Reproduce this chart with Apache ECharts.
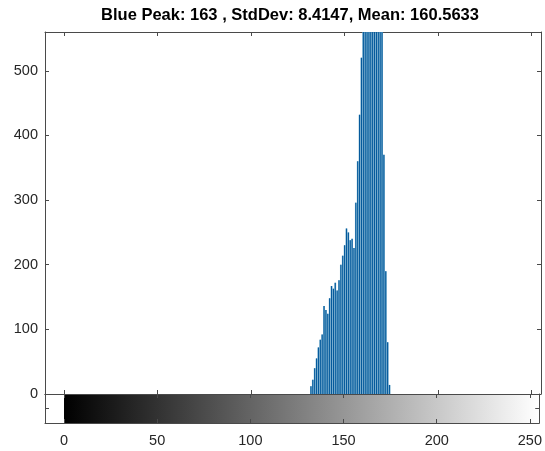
<!DOCTYPE html>
<html>
<head>
<meta charset="utf-8">
<script src="https://cdn.jsdelivr.net/npm/echarts@6/dist/echarts.min.js"></script>
<style>
  html, body { margin: 0; padding: 0; background: #fff; }
  #chart { width: 545px; height: 451px; }
</style>
</head>
<body>
<div id="chart"></div>
<script>
// Intensity levels (bins) and their pixel counts for the blue channel
const bins = [132, 133, 134, 135, 136, 137, 138, 139, 140, 141, 142, 143, 144, 145,
              146, 147, 148, 149, 150, 151, 152, 153, 154, 155, 156, 157, 158, 159,
              160, 161, 162, 163, 164, 165, 166, 167, 168, 169, 170, 171, 172, 173, 174];
const counts = [12, 22, 40, 55, 72, 84, 92, 136, 130, 124, 148, 167, 163, 172,
                160, 176, 200, 214, 230, 256, 250, 238, 240, 226, 296, 360, 432, 520,
                580, 620, 650, 700, 660, 640, 610, 600, 590, 575, 565, 370, 190, 80, 14];
const xTicks = [0, 50, 100, 150, 200, 250];
const yTicks = [0, 100, 200, 300, 400, 500];
const grayRange = [0, 255];
const titleText = 'Blue Peak: 163 , StdDev: 8.4147, Mean: 160.5633';

const X_MIN = -10.2, X_MAX = 255, Y_MAX = 560;
const lineColor = '#4a4a4a';
const labelColor = '#262626';
const font = 'Liberation Sans, Arial, sans-serif';
const labelSize = 14.5;

const histData = bins.map((b, i) => [b, counts[i]]);

function xAxisDef(grid, pos, showLabels) {
  return {
    type: 'value', gridIndex: grid, position: pos, min: X_MIN, max: X_MAX,
    splitLine: { show: false },
    axisLine: { show: true, onZero: false, lineStyle: { color: lineColor, width: 1 } },
    axisTick: { show: true, inside: true, length: 4, customValues: xTicks, lineStyle: { color: lineColor } },
    axisLabel: { show: showLabels, customValues: xTicks, margin: 10, color: labelColor, fontSize: labelSize, fontFamily: font }
  };
}

function yAxisDef(grid, pos, max, ticks, showLabels) {
  return {
    type: 'value', gridIndex: grid, position: pos, min: 0, max: max,
    splitLine: { show: false },
    axisLine: { show: true, onZero: false, lineStyle: { color: lineColor, width: 1 } },
    axisTick: { show: true, inside: true, length: 4, customValues: ticks, lineStyle: { color: lineColor } },
    axisLabel: { show: showLabels, customValues: ticks, margin: 7, color: labelColor, fontSize: labelSize, fontFamily: font }
  };
}

const chart = echarts.init(document.getElementById('chart'), null, { renderer: 'canvas' });
chart.setOption({
  animation: false,
  backgroundColor: '#fff',
  graphic: [{
    type: 'text', x: 290, y: 15,
    style: { text: titleText, fill: '#000', font: 'bold 16.5px ' + font, textAlign: 'center', textVerticalAlign: 'middle' }
  }],
  grid: [
    { left: 45, top: 32, width: 496, height: 362 },
    { left: 45, top: 394, width: 496, height: 29 }
  ],
  xAxis: [
    xAxisDef(0, 'bottom', false),
    xAxisDef(0, 'top', false),
    xAxisDef(1, 'top', false),
    xAxisDef(1, 'bottom', true)
  ],
  yAxis: [
    yAxisDef(0, 'left', Y_MAX, yTicks, true),
    yAxisDef(0, 'right', Y_MAX, yTicks, false),
    yAxisDef(1, 'left', 1, [0.5], false),
    yAxisDef(1, 'right', 1, [0.5], false)
  ],
  series: [
    {
      // soft halo behind each stem
      type: 'bar', xAxisIndex: 1, yAxisIndex: 0, data: histData,
      barWidth: 1.87, z: 1, clip: true,
      itemStyle: { color: '#8cbfd9' }
    },
    {
      // the stems themselves
      type: 'bar', xAxisIndex: 0, yAxisIndex: 0, data: histData,
      barWidth: 1.2, z: 2, clip: true,
      itemStyle: { color: '#055a9c' }
    },
    {
      // grayscale bar from black (0) to white (255)
      type: 'custom', xAxisIndex: 3, yAxisIndex: 2,
      data: [grayRange],
      encode: { x: [0, 1] },
      z: 0,
      renderItem: function (params, api) {
        const p0 = api.coord([api.value(0), 1]);
        const p1 = api.coord([api.value(1), 0]);
        return {
          type: 'rect',
          shape: { x: p0[0], y: p0[1], width: p1[0] - p0[0], height: p1[1] - p0[1] },
          style: {
            fill: new echarts.graphic.LinearGradient(0, 0, 1, 0, [
              { offset: 0, color: '#000' },
              { offset: 1, color: '#fff' }
            ])
          }
        };
      }
    }
  ]
});
</script>
</body>
</html>
